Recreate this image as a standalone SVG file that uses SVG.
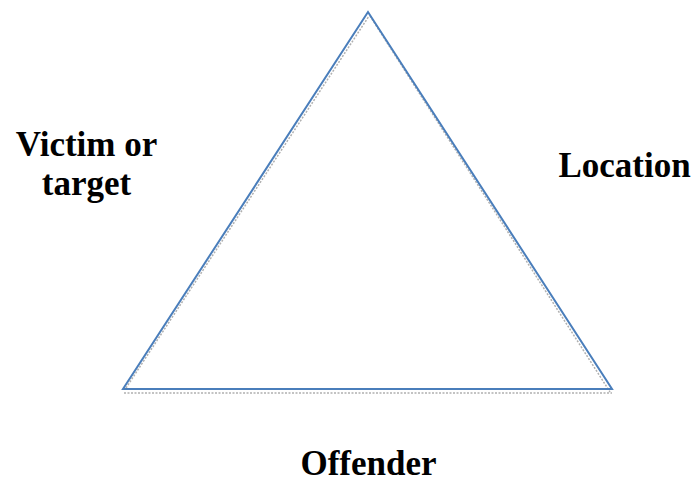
<svg xmlns="http://www.w3.org/2000/svg" width="693" height="484" viewBox="0 0 693 484">
<style>
.lbl{font-family:"Liberation Serif","Times New Roman",serif;font-weight:bold;font-size:35px;fill:#000;text-anchor:middle}
.edge{stroke:#4a7ebb;stroke-width:2;fill:none;stroke-linecap:round}
.shadow{stroke:#b0b0b0;stroke-width:1.5;fill:none;stroke-dasharray:2 1.5}
</style>
<rect width="693" height="484" fill="#fff"/>
<g id="connectors">
<polyline class="shadow" points="124,393 612,393"/>
<polyline class="shadow" points="126,388 369,16"/>
<polyline class="shadow" points="370,16 610,392"/>
<polygon class="edge" points="368,12 123,389 612,389" stroke-linejoin="miter"/>
</g>
<g id="victim"><text class="lbl" x="86.5" y="156">Victim or</text><text class="lbl" x="86.5" y="195">target</text></g>
<g id="location"><text class="lbl" x="624.5" y="177">Location</text></g>
<g id="offender"><text class="lbl" x="368.5" y="475">Offender</text></g>
</svg>
